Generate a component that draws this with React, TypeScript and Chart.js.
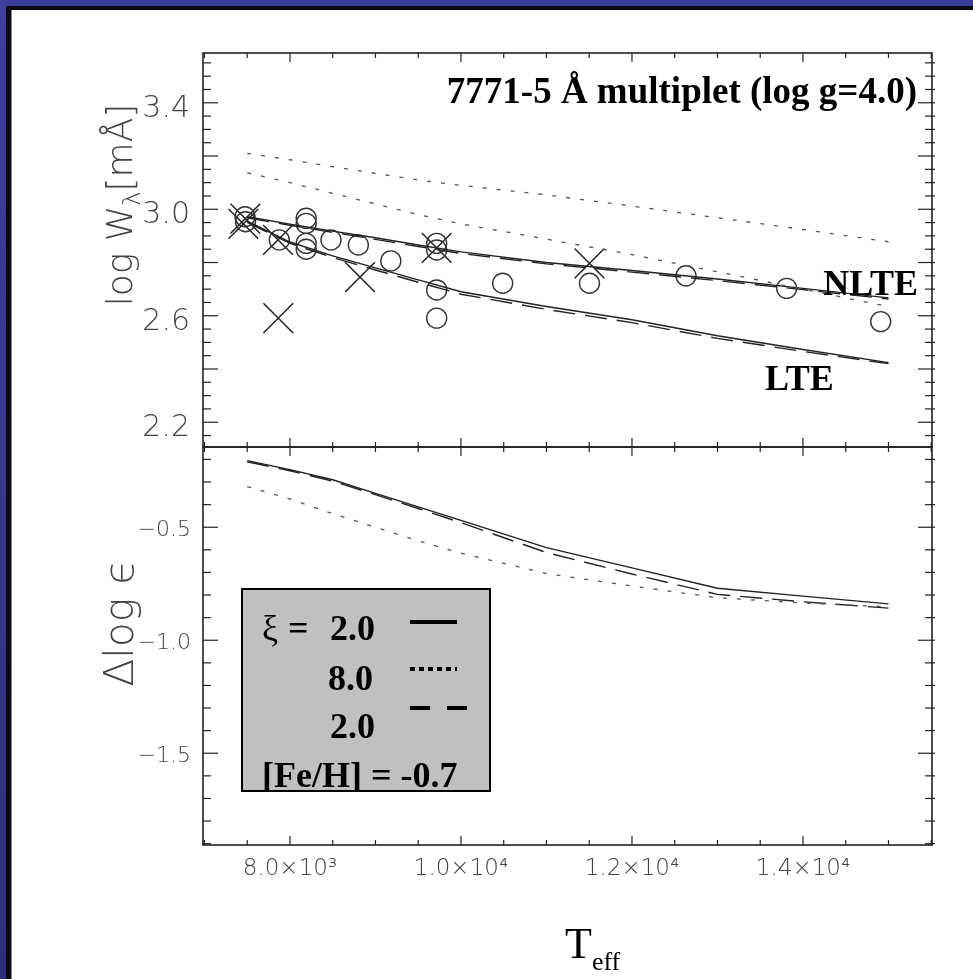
import React, { useEffect, useRef } from 'react';
import { Chart, registerables } from 'chart.js';

Chart.register(...registerables);

// ---------- data ----------
const T_GRID = [7500, 8000, 8500, 9000, 9500, 10000, 11000, 12000, 13000, 14000, 15000];

// upper panel: log W (mÅ)
const W_NLTE_XI2 = [2.972, 2.944, 2.918, 2.893, 2.866, 2.84, 2.8, 2.77, 2.738, 2.703, 2.667];
const W_NLTE_XI2_MP = [2.968, 2.94, 2.913, 2.887, 2.86, 2.834, 2.795, 2.764, 2.732, 2.698, 2.663];
const W_NLTE_XI8 = [3.21, 3.186, 3.16, 3.135, 3.11, 3.09, 3.054, 3.012, 2.968, 2.924, 2.878];
const W_LTE_XI2 = [2.955, 2.877, 2.825, 2.78, 2.735, 2.69, 2.635, 2.585, 2.525, 2.473, 2.424];
const W_LTE_XI2_MP = [2.951, 2.872, 2.819, 2.772, 2.726, 2.681, 2.624, 2.574, 2.515, 2.466, 2.42];
const W_LTE_XI8 = [3.137, 3.1, 3.06, 3.02, 2.98, 2.945, 2.888, 2.83, 2.765, 2.7, 2.634];

// observed stars
const OBS_CIRCLE_T = [7474, 7480, 7875, 8190, 8190, 8190, 8190, 8480, 8800, 9180, 9716, 9716, 9716, 9716, 10488, 11503, 12632, 13809, 14909];
const OBS_CIRCLE_W = [2.972, 2.953, 2.885, 2.966, 2.947, 2.872, 2.85, 2.885, 2.866, 2.806, 2.872, 2.847, 2.697, 2.591, 2.722, 2.722, 2.75, 2.703, 2.578];
const OBS_CROSS_T = [7455, 7478, 7860, 7863, 8819, 9716, 11503];
const OBS_CROSS_W = [2.945, 2.965, 2.885, 2.591, 2.745, 2.855, 2.797];

// lower panel: Δ log ε
const D_XI2 = [-0.205, -0.245, -0.29, -0.35, -0.41, -0.47, -0.59, -0.68, -0.77, -0.805, -0.839];
const D_XI2_MP = [-0.21, -0.25, -0.296, -0.356, -0.417, -0.48, -0.612, -0.707, -0.797, -0.83, -0.858];
const D_XI8 = [-0.32, -0.375, -0.44, -0.5, -0.56, -0.615, -0.705, -0.76, -0.812, -0.835, -0.852];

// axes
const X_MIN = 6983;
const X_MAX = 15509;
const X_TICKS = [8000, 10000, 12000, 14000];
const X_TICK_LABELS = ['8.0×10³', '1.0×10⁴', '1.2×10⁴', '1.4×10⁴'];
const Y_TOP_MIN = 2.107;
const Y_TOP_MAX = 3.587;
const Y_TOP_TICKS = [2.2, 2.6, 3.0, 3.4];
const Y_BOT_MIN = -1.906;
const Y_BOT_MAX = -0.145;
const Y_BOT_TICKS = [-1.5, -1.0, -0.5];

// texts
const PANEL_TITLE = '7771-5 Å multiplet (log g=4.0)';
const LABEL_NLTE = 'NLTE';
const LABEL_LTE = 'LTE';
const LEGEND_XI = ['2.0', '8.0', '2.0'];
const LEGEND_FEH = '[Fe/H] = -0.7';

// ---------- layout ----------
const W = 973;
const H = 979;
const PLOT_LEFT = 203;
const PLOT_RIGHT = 932;
const PLOT_TOP = 53;
const PLOT_MID = 447;
const PLOT_BOTTOM = 845;

const SERIF = '"Liberation Serif", "Times New Roman", serif';
const SANS = '"DejaVu Sans", sans-serif';
const LABEL_COL = '#444';

const pts = (xs: number[], ys: number[]) => xs.map((x, i) => ({ x, y: ys[i] }));

const lineDs = (xs: number[], ys: number[], kind: 'solid' | 'dot' | 'dash') => ({
  type: 'scatter' as const,
  data: pts(xs, ys),
  showLine: true,
  borderColor: kind === 'dot' ? '#555' : '#222',
  borderWidth: kind === 'dot' ? 1.3 : 1.4,
  borderDash: kind === 'dot' ? [4, 10] : kind === 'dash' ? [22, 10] : [],
  pointRadius: 0,
  fill: false,
  tension: 0,
});

function drawLine(ctx: CanvasRenderingContext2D, x1: number, y1: number, x2: number, y2: number) {
  ctx.beginPath();
  ctx.moveTo(x1, y1);
  ctx.lineTo(x2, y2);
  ctx.stroke();
}

function isMultiple(v: number, step: number) {
  const r = v / step;
  return Math.abs(r - Math.round(r)) < 1e-6;
}

function drawFrame(chart: any, yMinor: number, yMajor: number) {
  const { ctx, chartArea: a, scales } = chart;
  const xs = scales.x;
  const ys = scales.y;
  ctx.save();
  ctx.strokeStyle = '#222';
  ctx.lineWidth = 1.6;
  ctx.setLineDash([]);
  ctx.strokeRect(a.left, a.top, a.right - a.left, a.bottom - a.top);
  ctx.lineWidth = 1.2;
  const xStep = 500;
  for (let v = Math.ceil(xs.min / xStep) * xStep; v <= xs.max; v += xStep) {
    const px = xs.getPixelForValue(v);
    const len = isMultiple(v, 2000) ? 9 : 5;
    drawLine(ctx, px, a.top, px, a.top + len);
    drawLine(ctx, px, a.bottom, px, a.bottom - len);
  }
  const start = Math.ceil(ys.min / yMinor - 1e-9);
  for (let k = start; k * yMinor <= ys.max + 1e-9; k++) {
    const v = k * yMinor;
    const py = ys.getPixelForValue(v);
    const major = isMultiple(v, yMajor);
    drawLine(ctx, a.left, py, a.left + (major ? 15 : 8), py);
    drawLine(ctx, a.right + 3, py, a.right - (major ? 14 : 7), py);
  }
  ctx.restore();
}

function drawRotated(ctx: CanvasRenderingContext2D, cx: number, cy: number, parts: { t: string; font: string; dy: number }[]) {
  ctx.save();
  let total = 0;
  const widths = parts.map((p) => {
    ctx.font = p.font;
    const w = ctx.measureText(p.t).width;
    total += w;
    return w;
  });
  ctx.translate(cx, cy);
  ctx.rotate(-Math.PI / 2);
  ctx.fillStyle = LABEL_COL;
  ctx.textBaseline = 'alphabetic';
  ctx.textAlign = 'left';
  let x = -total / 2;
  parts.forEach((p, i) => {
    ctx.font = p.font;
    ctx.fillText(p.t, x, p.dy);
    x += widths[i];
  });
  ctx.restore();
}

const topDecor = {
  id: 'topDecor',
  beforeDraw(chart: any) {
    const ctx = chart.ctx as CanvasRenderingContext2D;
    ctx.save();
    ctx.fillStyle = '#ffffff';
    ctx.fillRect(0, 0, W, H);
    const g = ctx.createLinearGradient(0, 0, 0, H);
    g.addColorStop(0, '#3d409c');
    g.addColorStop(1, '#2e3079');
    ctx.fillStyle = '#3c3f9a';
    ctx.fillRect(0, 0, W, 6);
    ctx.fillStyle = g;
    ctx.fillRect(0, 0, 6, H);
    ctx.fillStyle = '#0a0a12';
    ctx.fillRect(6, 6, W - 6, 4);
    ctx.fillRect(6, 6, 5, H - 6);
    ctx.fillStyle = '#888';
    ctx.fillRect(11, 10, 1, H - 10);
    ctx.restore();
  },
  afterDraw(chart: any) {
    drawFrame(chart, 0.05, 0.2);
    const ctx = chart.ctx as CanvasRenderingContext2D;
    ctx.save();
    ctx.fillStyle = '#000';
    ctx.font = `bold 37px ${SERIF}`;
    ctx.textAlign = 'right';
    ctx.textBaseline = 'alphabetic';
    ctx.fillText(PANEL_TITLE, 917, 103);
    ctx.font = `bold 36px ${SERIF}`;
    ctx.fillText(LABEL_NLTE, 918, 295);
    ctx.textAlign = 'left';
    ctx.fillText(LABEL_LTE, 765, 390);
    ctx.restore();
    drawRotated(ctx, 132, 205, [
      { t: 'log W', font: `200 36px ${SANS}`, dy: 0 },
      { t: 'λ', font: `200 24px ${SANS}`, dy: 8 },
      { t: '[mÅ]', font: `200 36px ${SANS}`, dy: 0 },
    ]);
  },
};

const bottomDecor = {
  id: 'bottomDecor',
  afterDraw(chart: any) {
    drawFrame(chart, 0.1, 0.5);
    const ctx = chart.ctx as CanvasRenderingContext2D;
    drawRotated(ctx, 133, 623, [{ t: 'Δlog ϵ', font: `200 41px ${SANS}`, dy: 0 }]);
    ctx.save();
    // x title
    ctx.fillStyle = '#000';
    ctx.textAlign = 'left';
    ctx.textBaseline = 'alphabetic';
    ctx.font = `44px ${SERIF}`;
    ctx.fillText('T', 565, 958);
    const tw = ctx.measureText('T').width;
    ctx.font = `26px ${SERIF}`;
    ctx.fillText('eff', 565 + tw, 970);
    // legend box
    ctx.fillStyle = '#c0c0c0';
    ctx.fillRect(242, 589, 248, 202);
    ctx.strokeStyle = '#000';
    ctx.lineWidth = 2;
    ctx.strokeRect(242, 589, 248, 202);
    ctx.fillStyle = '#000';
    ctx.font = `36px ${SERIF}`;
    ctx.fillText('ξ', 262, 640);
    ctx.font = `bold 36px ${SERIF}`;
    ctx.fillText('=', 288, 640);
    ctx.fillText(LEGEND_XI[0], 330, 640);
    ctx.fillText(LEGEND_XI[1], 328, 690);
    ctx.fillText(LEGEND_XI[2], 330, 738);
    ctx.fillText(LEGEND_FEH, 262, 787);
    ctx.lineWidth = 4;
    ctx.setLineDash([]);
    drawLine(ctx, 410, 622, 457, 622);
    ctx.setLineDash([5, 4]);
    drawLine(ctx, 410, 669, 457, 669);
    ctx.setLineDash([20, 17]);
    drawLine(ctx, 410, 708, 467, 708);
    ctx.restore();
  },
};

const baseOptions = {
  responsive: false,
  animation: false as const,
  devicePixelRatio: 1,
  events: [] as any[],
  plugins: { legend: { display: false }, tooltip: { enabled: false } },
};

export default function App() {
  const topRef = useRef<HTMLCanvasElement>(null);
  const botRef = useRef<HTMLCanvasElement>(null);

  useEffect(() => {
    const top = new Chart(topRef.current as HTMLCanvasElement, {
      type: 'scatter',
      data: {
        datasets: [
          lineDs(T_GRID, W_NLTE_XI8, 'dot'),
          lineDs(T_GRID, W_LTE_XI8, 'dot'),
          lineDs(T_GRID, W_NLTE_XI2_MP, 'dash'),
          lineDs(T_GRID, W_LTE_XI2_MP, 'dash'),
          lineDs(T_GRID, W_NLTE_XI2, 'solid'),
          lineDs(T_GRID, W_LTE_XI2, 'solid'),
          {
            type: 'scatter',
            data: pts(OBS_CIRCLE_T, OBS_CIRCLE_W),
            pointStyle: 'circle',
            pointRadius: 10,
            pointBorderColor: '#333',
            pointBackgroundColor: 'rgba(0,0,0,0)',
            pointBorderWidth: 1.4,
            showLine: false,
          },
          {
            type: 'scatter',
            data: pts(OBS_CROSS_T, OBS_CROSS_W),
            pointStyle: 'crossRot',
            pointRadius: 21,
            pointBorderColor: '#222',
            pointBorderWidth: 1.5,
            showLine: false,
          },
        ] as any,
      },
      options: {
        ...baseOptions,
        layout: { padding: { top: PLOT_TOP, bottom: H - PLOT_MID, right: W - PLOT_RIGHT, left: 0 } },
        scales: {
          x: { type: 'linear', min: X_MIN, max: X_MAX, display: false },
          y: {
            type: 'linear',
            min: Y_TOP_MIN,
            max: Y_TOP_MAX,
            grid: { display: false, drawTicks: false },
            border: { display: false },
            afterFit: (s: any) => {
              s.width = PLOT_LEFT;
            },
            afterBuildTicks: (s: any) => {
              s.ticks = Y_TOP_TICKS.map((v) => ({ value: v }));
            },
            ticks: {
              padding: 13,
              labelOffset: 6,
              color: LABEL_COL,
              font: { family: SANS, size: 30, weight: 200 as any },
              callback: (v: any) => Number(v).toFixed(1),
            },
          },
        },
      } as any,
      plugins: [topDecor],
    });

    const bot = new Chart(botRef.current as HTMLCanvasElement, {
      type: 'scatter',
      data: {
        datasets: [
          lineDs(T_GRID, D_XI8, 'dot'),
          lineDs(T_GRID, D_XI2_MP, 'dash'),
          lineDs(T_GRID, D_XI2, 'solid'),
        ] as any,
      },
      options: {
        ...baseOptions,
        layout: { padding: { top: PLOT_MID, bottom: 0, right: W - PLOT_RIGHT, left: 0 } },
        scales: {
          x: {
            type: 'linear',
            min: X_MIN,
            max: X_MAX,
            grid: { display: false, drawTicks: false },
            border: { display: false },
            afterFit: (s: any) => {
              s.height = H - PLOT_BOTTOM;
            },
            afterBuildTicks: (s: any) => {
              s.ticks = X_TICKS.map((v) => ({ value: v }));
            },
            ticks: {
              padding: 10,
              maxRotation: 0,
              color: LABEL_COL,
              font: { family: SANS, size: 23, weight: 200 as any },
              callback: (v: any) => {
                const i = X_TICKS.indexOf(Number(v));
                return i >= 0 ? X_TICK_LABELS[i] : '';
              },
            },
          },
          y: {
            type: 'linear',
            min: Y_BOT_MIN,
            max: Y_BOT_MAX,
            grid: { display: false, drawTicks: false },
            border: { display: false },
            afterFit: (s: any) => {
              s.width = PLOT_LEFT;
            },
            afterBuildTicks: (s: any) => {
              s.ticks = Y_BOT_TICKS.map((v) => ({ value: v }));
            },
            ticks: {
              padding: 12,
              labelOffset: 3,
              color: LABEL_COL,
              font: { family: SANS, size: 22, weight: 200 as any },
              callback: (v: any) => (Number(v) < 0 ? '−' : '') + Math.abs(Number(v)).toFixed(1),
            },
          },
        },
      } as any,
      plugins: [bottomDecor],
    });

    return () => {
      top.destroy();
      bot.destroy();
    };
  }, []);

  const cs: React.CSSProperties = { position: 'absolute', left: 0, top: 0, width: W, height: H };
  return (
    <div style={{ position: 'absolute', left: 0, top: 0, width: W, height: H, overflow: 'hidden', background: '#fff' }}>
      <canvas ref={topRef} width={W} height={H} style={cs} />
      <canvas ref={botRef} width={W} height={H} style={cs} />
    </div>
  );
}
